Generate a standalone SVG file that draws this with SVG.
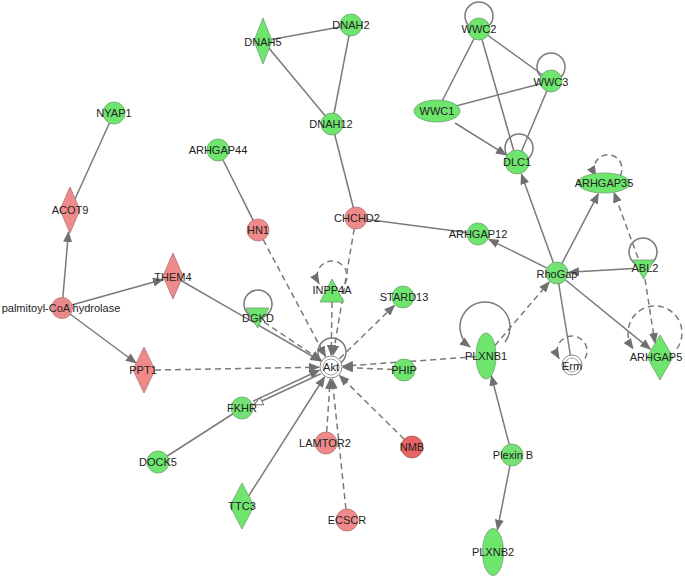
<svg xmlns="http://www.w3.org/2000/svg" width="685" height="580" viewBox="0 0 685 580">
<style>
.e{stroke:#7a7a7a;stroke-width:1.5;fill:none}
.d{stroke-dasharray:6,4}
.a{marker-end:url(#ah)}
.g{fill:#6ee66e;stroke:#6f9f6f;stroke-width:0.8}
.r{fill:#f08a8a;stroke:#b07474;stroke-width:0.8}
.rd{fill:#e86464;stroke:#a85a5a;stroke-width:0.8}
.w{fill:#fff;stroke:#8a8a8a;stroke-width:1}
.in{fill:none;stroke:#a0c8a0;stroke-width:0.8}
.inr{fill:none;stroke:#c09090;stroke-width:0.8}
.inw{fill:none;stroke:#8a8a8a;stroke-width:0.8}
text{font-family:"Liberation Sans",Arial,sans-serif;font-size:11px;fill:#222;text-anchor:middle}
</style>
<defs>
<marker id="ah" markerUnits="userSpaceOnUse" markerWidth="11" markerHeight="9" refX="10" refY="4.5" orient="auto"><path d="M0,0 L11,4.5 L0,9 z" fill="#707070" stroke="none"/></marker>
<marker id="ao" markerUnits="userSpaceOnUse" markerWidth="12" markerHeight="10" refX="10" refY="5" orient="auto"><path d="M1,1 L10,5 L1,9 z" fill="#fff" stroke="#707070" stroke-width="1"/></marker>
</defs>
<rect width="685" height="580" fill="#fff"/>
<g id="edges">
<line class="e" x1="114" y1="113" x2="70" y2="210"/>
<line class="e" x1="218" y1="150" x2="258" y2="230"/>
<line class="e" x1="263" y1="41" x2="351" y2="25"/>
<line class="e" x1="263" y1="41" x2="332" y2="124"/>
<line class="e" x1="351" y1="25" x2="332" y2="124"/>
<line class="e" x1="332" y1="124" x2="356" y2="218"/>
<line class="e" x1="356" y1="218" x2="478" y2="234"/>
<line class="e" x1="479" y1="29" x2="437" y2="111"/>
<line class="e" x1="479" y1="29" x2="517" y2="162"/>
<line class="e" x1="479" y1="29" x2="551" y2="81"/>
<line class="e" x1="437" y1="111" x2="551" y2="81"/>
<line class="e" x1="551" y1="81" x2="517" y2="162"/>
<line class="e" x1="158" y1="462" x2="242" y2="408"/>
<line class="e" x1="557" y1="273" x2="572" y2="365"/>
<circle class="e" cx="332" cy="352" r="14"/>
<circle class="e" cx="258" cy="304" r="14"/>
<circle class="e" cx="479" cy="16" r="14"/>
<circle class="e" cx="551" cy="67" r="14"/>
<circle class="e" cx="519" cy="148" r="14"/>
<circle class="e" cx="643" cy="252" r="14"/>
<path class="e d a" d="M345 283.5 A15 15 0 1 0 319 283.5"/>
<path class="e d a" d="M620 176 A14 14 0 1 0 596 176"/>
<path class="e d a" d="M585 358.5 A15 15 0 1 0 559 358.5"/>
<path class="e a" d="M505 342 A25 25 0 1 0 470 347"/>
<path class="e d a" d="M677 348.6 A27 27 0 1 0 633 348.6"/>
<line class="e a" x1="62.8" y1="298" x2="68.5" y2="232"/>
<line class="e a" x1="71.6" y1="305" x2="163" y2="279.5"/>
<line class="e a" x1="70" y1="314" x2="136" y2="363"/>
<line class="e a" x1="181" y1="280.5" x2="320.6" y2="361"/>
<line class="e a" x1="248" y1="497" x2="324.5" y2="377"/>
<line class="e a" x1="253.1" y1="401.2" x2="319.3" y2="370.2"/>
<line class="e" x1="320.9" y1="373.8" x2="253.7" y2="404.8" marker-end="url(#ao)"/>
<line class="e a" x1="509.2" y1="444.4" x2="491.3" y2="375.7"/>
<line class="e a" x1="509.9" y1="465.8" x2="497.4" y2="529.7"/>
<line class="e a" x1="547.1" y1="268.1" x2="488.8" y2="239.3"/>
<line class="e a" x1="553.3" y1="262.6" x2="521.4" y2="174.2"/>
<line class="e a" x1="562.1" y1="263.2" x2="598.4" y2="193.6"/>
<line class="e a" x1="633" y1="268.6" x2="569" y2="272.3"/>
<line class="e a" x1="565.5" y1="280" x2="650.3" y2="349.1"/>
<line class="e a" x1="455" y1="123" x2="506.1" y2="154.9"/>
<line class="e d a" x1="155" y1="370" x2="319" y2="367.2"/>
<line class="e d a" x1="264" y1="322" x2="321" y2="360.3"/>
<line class="e d a" x1="263.2" y1="239.7" x2="325.4" y2="356.4"/>
<line class="e d a" x1="354.2" y1="228.8" x2="333" y2="355.2"/>
<line class="e d a" x1="332" y1="302" x2="331.2" y2="355"/>
<line class="e d a" x1="339.6" y1="358.6" x2="394.4" y2="305.4"/>
<line class="e d a" x1="393" y1="369.5" x2="343" y2="367.5"/>
<line class="e d a" x1="476" y1="356.7" x2="343" y2="366.1"/>
<line class="e d a" x1="326.7" y1="432" x2="330.2" y2="379"/>
<line class="e d a" x1="345.9" y1="509" x2="332.2" y2="379"/>
<line class="e d a" x1="404.2" y1="439.3" x2="339.5" y2="375.4"/>
<line class="e d a" x1="494.9" y1="345.6" x2="549.2" y2="282.1"/>
<line class="e d a" x1="638" y1="258" x2="614" y2="192.5"/>
<line class="e d a" x1="645" y1="279" x2="655" y2="343"/>
</g>
<g id="NYAP1"><circle class="g" cx="114" cy="113" r="11"/><text x="114" y="117">NYAP1</text></g>
<g id="ACOT9"><polygon class="r" points="70,187 80,210 70,233 60,210"/><text x="70" y="214">ACOT9</text></g>
<g id="THEM4"><polygon class="r" points="173,253 183,276 173,299 163,276"/><text x="173" y="281">THEM4</text></g>
<g id="palmitoyl"><circle class="r" cx="62" cy="308" r="10.5"/><circle class="inr" cx="62" cy="308" r="7.5"/><text x="61" y="312">palmitoyl-CoA hydrolase</text></g>
<g id="PPT1"><polygon class="r" points="144,347 155,370 144,393 133,370"/><text x="143" y="374">PPT1</text></g>
<g id="ARHGAP44"><circle class="g" cx="218" cy="150" r="11"/><text x="218" y="154">ARHGAP44</text></g>
<g id="DNAH5"><polygon class="g" points="263,18 272,41 263,64 254,41"/><text x="263" y="46">DNAH5</text></g>
<g id="DNAH2"><circle class="g" cx="351" cy="25" r="11"/><text x="351" y="29">DNAH2</text></g>
<g id="DNAH12"><circle class="g" cx="332" cy="124" r="11"/><text x="331" y="128">DNAH12</text></g>
<g id="HN1"><circle class="r" cx="258" cy="230" r="11"/><text x="258" y="234">HN1</text></g>
<g id="CHCHD2"><circle class="r" cx="356" cy="218" r="11"/><text x="357" y="222">CHCHD2</text></g>
<g id="INPP4A"><polygon class="g" points="332,279 344,302 320,302"/><text x="332" y="294">INPP4A</text></g>
<g id="STARD13"><circle class="g" cx="403" cy="297" r="11"/><text x="404" y="301">STARD13</text></g>
<g id="DGKD"><polygon class="g" points="246,308 269,308 257.5,328"/><text x="258" y="322">DGKD</text></g>
<g id="Akt"><circle class="w" cx="331" cy="367" r="11"/><circle class="inw" cx="331" cy="367" r="8"/><text x="331" y="371">Akt</text></g>
<g id="PHIP"><circle class="g" cx="404" cy="370" r="11"/><text x="404" y="374">PHIP</text></g>
<g id="ARHGAP12"><circle class="g" cx="478" cy="234" r="11"/><text x="478" y="238">ARHGAP12</text></g>
<g id="RhoGap"><circle class="g" cx="557" cy="273" r="11"/><circle class="in" cx="557" cy="273" r="8"/><text x="557" y="278">RhoGap</text></g>
<g id="ABL2"><polygon class="g" points="633,260 654,260 643.5,279"/><text x="645" y="272">ABL2</text></g>
<g id="PLXNB1"><ellipse class="g" cx="486" cy="356" rx="10" ry="23"/><text x="486" y="360">PLXNB1</text></g>
<g id="Erm"><circle class="w" cx="572" cy="365" r="10"/><circle class="inw" cx="572" cy="365" r="7"/><text x="572" y="370">Erm</text></g>
<g id="ARHGAP5"><polygon class="g" points="660,335 673,357 660,380 647,357"/><text x="656" y="361">ARHGAP5</text></g>
<g id="ARHGAP35"><ellipse class="g" cx="604" cy="183" rx="26" ry="10"/><text x="604" y="187">ARHGAP35</text></g>
<g id="DLC1"><circle class="g" cx="517" cy="162" r="12"/><text x="517" y="166">DLC1</text></g>
<g id="WWC1"><ellipse class="g" cx="437" cy="111" rx="23" ry="11"/><text x="437" y="115">WWC1</text></g>
<g id="WWC2"><circle class="g" cx="479" cy="29" r="11"/><text x="479" y="33">WWC2</text></g>
<g id="WWC3"><circle class="g" cx="551" cy="81" r="11"/><text x="551" y="86">WWC3</text></g>
<g id="FKHR"><circle class="g" cx="242" cy="408" r="11"/><circle class="in" cx="242" cy="408" r="8"/><text x="242" y="412">FKHR</text></g>
<g id="DOCK5"><circle class="g" cx="158" cy="462" r="11"/><text x="158" y="466">DOCK5</text></g>
<g id="TTC3"><polygon class="g" points="242,483 254,506 242,529 230,506"/><text x="242" y="510">TTC3</text></g>
<g id="LAMTOR2"><circle class="r" cx="326" cy="443" r="11"/><text x="325" y="447">LAMTOR2</text></g>
<g id="NMB"><circle class="rd" cx="412" cy="447" r="11"/><text x="412" y="451">NMB</text></g>
<g id="ECSCR"><circle class="r" cx="347" cy="520" r="11"/><text x="347" y="524">ECSCR</text></g>
<g id="PlexinB"><circle class="g" cx="512" cy="455" r="11"/><circle class="in" cx="512" cy="455" r="8"/><text x="513" y="459">Plexin B</text></g>
<g id="PLXNB2"><ellipse class="g" cx="493" cy="552" rx="10.5" ry="23.5"/><text x="493" y="556">PLXNB2</text></g>
</svg>
